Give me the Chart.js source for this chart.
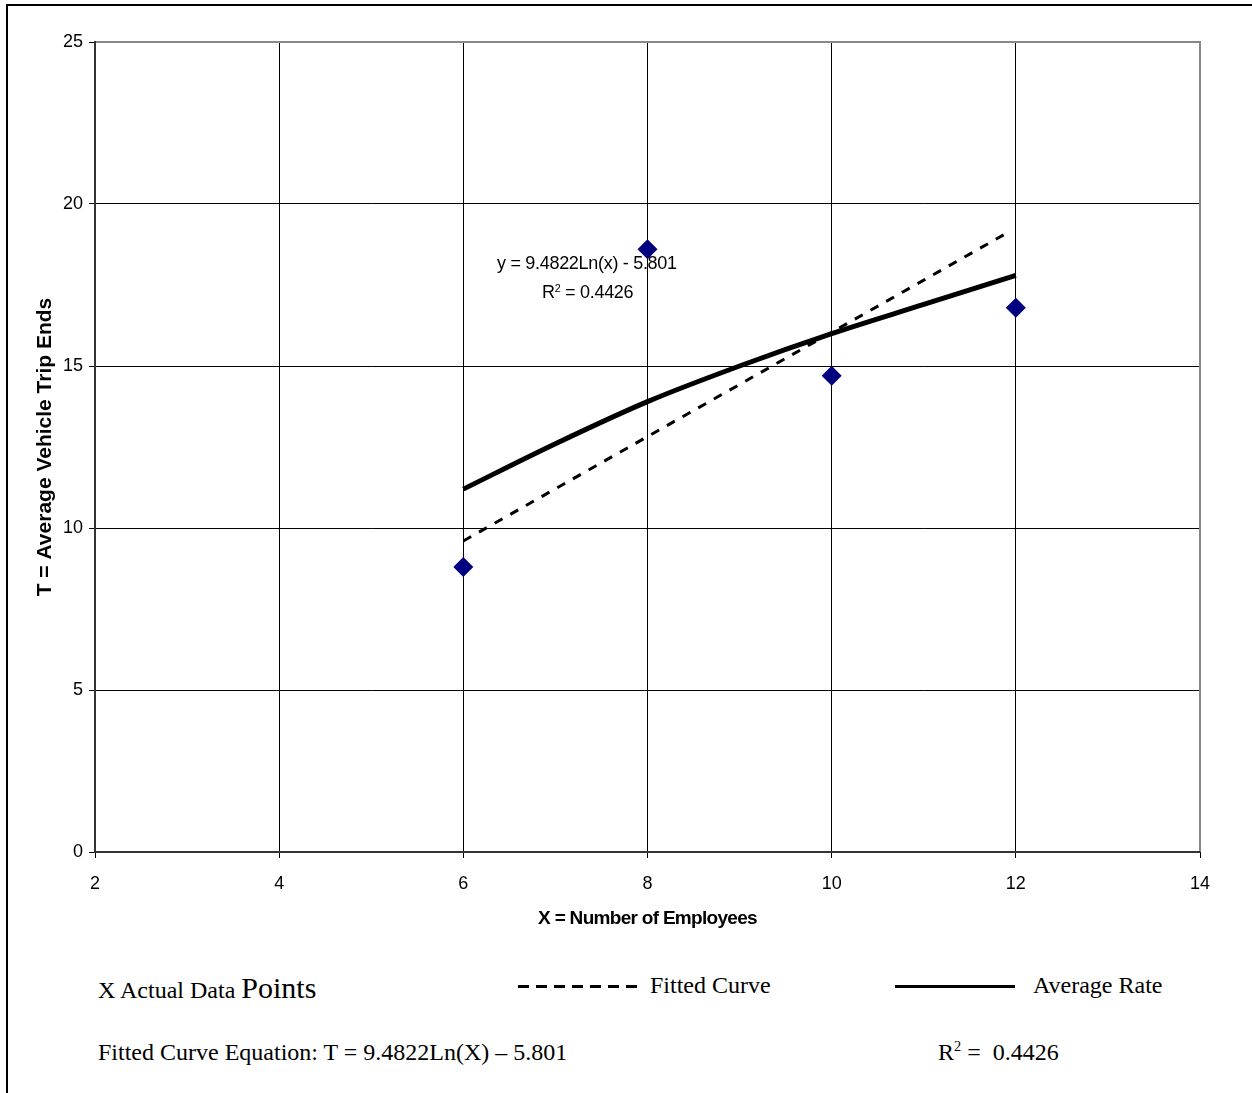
<!DOCTYPE html>
<html>
<head>
<meta charset="utf-8">
<script src="https://cdn.jsdelivr.net/npm/chart.js@4.4.0/dist/chart.umd.min.js"></script>
<style>
  html, body { margin: 0; padding: 0; background: #fff; }
  body { width: 1252px; height: 1093px; position: relative; overflow: hidden; }
  #frame { position: absolute; left: 6px; top: 4px; width: 1300px; height: 1200px;
           border-top: 2px solid #000; border-left: 2px solid #000; }
  #wrap { position: absolute; left: 0; top: 0; width: 1252px; height: 940px; }
  .note { position: absolute; font-family: Arial, "Liberation Sans", sans-serif; font-size: 18px;
          line-height: 1; letter-spacing: -0.3px; color: #000; white-space: nowrap; }
  .xtitle { position: absolute; left: 647.5px; top: 908px; transform: translateX(-50%);
            font-family: Arial, "Liberation Sans", sans-serif; font-size: 19px; font-weight: bold;
            line-height: 1; letter-spacing: -0.7px; color: #000; white-space: nowrap; }
  .leg { position: absolute; font-family: "Liberation Serif", "Times New Roman", serif; font-size: 24px;
         line-height: 1; color: #000; white-space: nowrap; }
  .big { font-size: 30px; }
  .dash { position: absolute; height: 3px;
          background: repeating-linear-gradient(to right, #000 0 11px, transparent 11px 18px); }
  .solid { position: absolute; height: 3px; background: #000; }
  sup { font-size: 60%; vertical-align: 0; position: relative; top: -0.6em; }
</style>
</head>
<body>
<div id="frame"></div>
<div id="wrap"><canvas id="chart" width="1252" height="940"></canvas></div>

<div class="note" style="left:497px; top:254px;">y = 9.4822Ln(x) - 5.801</div>
<div class="note" style="left:542px; top:283px;">R<sup>2</sup> = 0.4426</div>
<div class="xtitle">X = Number of Employees</div>

<div class="leg" style="left:98px; top:973px;">X Actual Data <span class="big">Points</span></div>
<div class="dash" style="left:518px; top:985px; width:119px;"></div>
<div class="leg" style="left:650px; top:973px;">Fitted Curve</div>
<div class="solid" style="left:895px; top:985px; width:120px;"></div>
<div class="leg" style="left:1033px; top:973px;">Average Rate</div>
<div class="leg" style="left:98px; top:1040px;">Fitted Curve Equation: T = 9.4822Ln(X) &ndash; 5.801</div>
<div class="leg" style="left:938px; top:1040px;">R<sup>2</sup> = &nbsp;0.4426</div>

<script>
// 实测数据点
const employees = [6, 8, 10, 12];
const tripEnds = [8.8, 18.6, 14.7, 16.8];

// 对数拟合曲线
const curveX = [6, 7, 8, 9, 10, 11, 12];
const curveY = [11.2, 12.6, 13.9, 15.0, 16.0, 16.9, 17.8];

// 虚线（平均比率）
const rateX = [6, 11.9];
const rateY = [9.6, 19.1];

// 坐标轴刻度
const xTicks = [2, 4, 6, 8, 10, 12, 14];
const yTicks = [0, 5, 10, 15, 20, 25];

function toPoints(xs, ys) {
    return xs.map((x, i) => ({ x: x, y: ys[i] }));
}

// 绘图区外框：上、右为灰色，左、下为深色
const plotBorder = {
    id: 'plotBorder',
    afterDraw(chart) {
        const a = chart.chartArea;
        const ctx = chart.ctx;
        ctx.save();
        ctx.strokeStyle = '#888888';
        ctx.lineWidth = 2;
        ctx.beginPath();
        ctx.moveTo(a.left, a.top);
        ctx.lineTo(a.right, a.top);
        ctx.lineTo(a.right, a.bottom);
        ctx.stroke();
        ctx.strokeStyle = '#333';
        ctx.beginPath();
        ctx.moveTo(a.left, a.top - 1);
        ctx.lineTo(a.left, a.bottom);
        ctx.lineTo(a.right, a.bottom);
        ctx.stroke();
        ctx.restore();
    }
};

const ctx = document.getElementById('chart').getContext('2d');
new Chart(ctx, {
    type: 'scatter',
    data: {
        datasets: [{
            label: 'Actual Data Points',
            data: toPoints(employees, tripEnds),
            pointStyle: 'rectRot',
            pointRadius: 10,
            backgroundColor: '#000080',
            borderColor: '#000080',
            borderWidth: 0,
            showLine: false,
            order: 0
        }, {
            label: 'Fitted Curve',
            data: toPoints(curveX, curveY),
            showLine: true,
            borderColor: '#000',
            borderWidth: 5,
            pointRadius: 0,
            cubicInterpolationMode: 'monotone',
            order: 1
        }, {
            label: 'Average Rate',
            data: toPoints(rateX, rateY),
            showLine: true,
            borderColor: '#000',
            borderWidth: 3,
            borderDash: [9, 9],
            pointRadius: 0,
            order: 2
        }]
    },
    options: {
        responsive: false,
        animation: false,
        layout: { padding: { top: 42, right: 52, left: 0, bottom: 0 } },
        plugins: {
            legend: { display: false },
            tooltip: { enabled: false }
        },
        scales: {
            x: {
                type: 'linear',
                min: 2, max: 14,
                afterBuildTicks: (s) => { s.ticks = xTicks.map(v => ({ value: v })); },
                afterFit: (s) => { s.height = 88; },
                ticks: { color: '#000', padding: 15, font: { family: 'Arial', size: 18 } },
                grid: { color: '#000', lineWidth: 1, tickLength: 6, drawTicks: true },
                border: { display: false },
                title: { display: false }
            },
            y: {
                min: 0, max: 25,
                afterBuildTicks: (s) => { s.ticks = yTicks.map(v => ({ value: v })); },
                afterFit: (s) => { s.width = 95; },
                ticks: { color: '#000', padding: 6, font: { family: 'Arial', size: 18 } },
                grid: { color: '#000', lineWidth: 1, tickLength: 6, drawTicks: true },
                border: { display: false },
                title: {
                    display: true,
                    text: 'T = Average Vehicle Trip Ends',
                    color: '#000',
                    font: { family: 'Arial', size: 21, weight: 'bold' },
                    padding: { top: 33, bottom: 0 }
                }
            }
        }
    },
    plugins: [plotBorder]
});
</script>
</body>
</html>
